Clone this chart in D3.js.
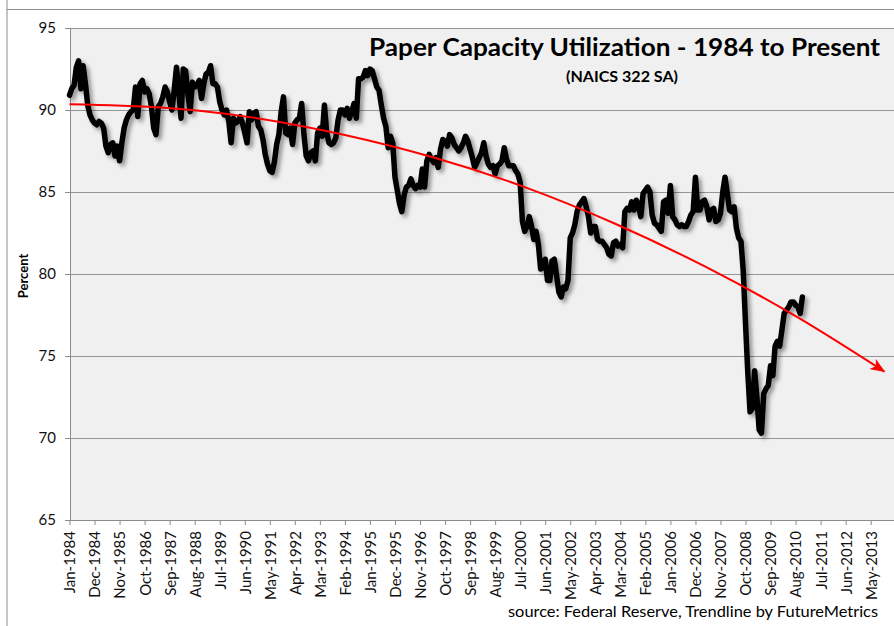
<!DOCTYPE html>
<html>
<head>
<meta charset="utf-8">
<script src="https://cdn.jsdelivr.net/npm/d3@7"></script>
<style>
  html, body { margin: 0; padding: 0; background: #fff; }
  svg { display: block; font-family: Lato, "Open Sans", sans-serif; }
</style>
</head>
<body>
<svg id="chart" width="894" height="626"></svg>
<script>
// ---- DATA ----
const startMonth = "Jan-1984";          // first monthly observation
const tickLabels = ["Jan-1984","Dec-1984","Nov-1985","Oct-1986","Sep-1987","Aug-1988","Jul-1989",
  "Jun-1990","May-1991","Apr-1992","Mar-1993","Feb-1994","Jan-1995","Dec-1995","Nov-1996",
  "Oct-1997","Sep-1998","Aug-1999","Jul-2000","Jun-2001","May-2002","Apr-2003","Mar-2004",
  "Feb-2005","Jan-2006","Dec-2006","Nov-2007","Oct-2008","Sep-2009","Aug-2010","Jul-2011",
  "Jun-2012","May-2013"];
const tickStep = 11; // months between category labels
const yTicks = [65, 70, 75, 80, 85, 90, 95];

// Monthly capacity utilization, Jan-1984 onwards (percent)
const utilization = [
  90.9, 91.3, 91.5, 92.6, 93.0, 91.3, 92.7, 91.6, 90.3, 89.7, 89.4,
  89.2, 89.1, 89.3, 89.2, 88.9, 87.8, 87.4, 87.9, 88.0, 87.2, 87.8,
  86.9, 88.0, 88.9, 89.4, 89.7, 89.9, 90.0, 91.4, 89.6, 91.6, 91.8,
  91.1, 91.3, 91.0, 90.2, 88.9, 88.5, 90.2, 90.4, 90.8, 91.4, 91.1,
  90.5, 90.0, 91.2, 92.6, 91.2, 89.5, 92.5, 92.4, 91.0, 89.9, 91.7,
  91.4, 91.5, 91.8, 90.7, 91.6, 92.2, 92.3, 92.7, 91.6, 91.6, 91.4,
  90.5, 90.0, 89.7, 90.0, 89.3, 88.0, 89.5, 89.2, 89.3, 89.6, 89.2,
  88.6, 88.0, 89.9, 89.4, 89.8, 89.9, 89.0, 88.8, 88.2, 87.3, 86.7,
  86.3, 86.2, 86.8, 87.9, 88.5, 89.9, 90.8, 88.6, 88.5, 88.9, 87.9,
  89.2, 89.4, 89.5, 90.4, 88.5, 87.2, 86.9, 87.4, 87.5, 86.9, 88.6,
  88.9, 88.4, 90.3, 88.6, 88.0, 87.9, 88.0, 88.3, 89.4, 90.0, 90.0,
  89.7, 90.1, 89.5, 89.9, 90.4, 89.5, 91.9, 91.9, 92.0, 92.4, 92.1,
  92.5, 92.4, 91.9, 91.4, 91.2, 90.3, 89.5, 89.0, 87.7, 88.4, 88.0,
  85.9, 85.1, 84.3, 83.8, 84.8, 85.3, 85.4, 85.8, 85.4, 85.2, 85.4,
  85.3, 86.4, 85.3, 86.9, 87.3, 87.0, 86.8, 87.1, 86.5, 87.6, 88.2,
  88.1, 87.8, 88.5, 88.3, 87.9, 87.7, 87.5, 87.7, 88.0, 88.4, 88.1,
  87.6, 87.1, 86.5, 86.8, 87.1, 87.4, 88.0, 87.2, 86.7, 86.5, 86.6,
  86.1, 86.6, 86.7, 86.9, 87.7, 87.0, 86.6, 86.6, 86.6, 86.3, 86.1,
  85.6, 83.2, 82.6, 82.9, 83.5, 82.9, 82.1, 82.6, 81.8, 80.3, 80.4,
  80.9, 79.6, 79.6, 80.8, 80.9, 79.9, 78.9, 78.6, 79.2, 79.1, 79.6,
  82.2, 82.5, 83.0, 83.8, 84.2, 84.4, 84.6, 84.1, 83.5, 82.5, 82.9,
  82.9, 82.1, 82.0, 82.0, 81.8, 81.6, 81.2, 81.1, 81.9, 82.0, 81.7,
  81.8, 81.6, 83.8, 84.0, 83.9, 84.4, 83.9, 84.5, 84.2, 83.5, 84.9,
  85.1, 85.3, 85.0, 83.6, 83.1, 83.0, 82.8, 82.6, 84.4, 84.5, 83.7,
  85.4, 83.5, 83.3, 83.0, 82.9, 83.0, 82.9, 82.9, 83.2, 83.6, 83.8,
  85.9, 83.9, 83.9, 84.4, 84.5, 84.1, 83.3, 83.9, 84.0, 83.2, 83.3,
  83.7, 85.0, 85.9, 84.9, 83.9, 83.8, 84.1, 82.8, 82.2, 82.0, 80.2,
  77.0, 74.0, 71.6, 71.8, 74.1, 72.5, 70.5, 70.3, 72.7, 73.0, 73.2,
  74.4, 73.8, 75.6, 75.9, 75.6, 76.6, 77.6, 77.8, 78.0, 78.3, 78.3,
  78.1, 78.0, 77.6, 78.6
];

// Trendline: month index -> percent
const trendMonths = [0, 40, 80, 120, 160, 200, 240, 280, 320, 358];
const trendValues = [90.35, 90.15, 89.55, 88.5, 87.1, 85.3, 83.05, 80.4, 77.35, 74.05];

const titleText = "Paper Capacity Utilization - 1984 to Present";
const subtitleText = "(NAICS 322 SA)";
const yAxisTitle = "Percent";
const sourceText = "source: Federal Reserve, Trendline by FutureMetrics";

// ---- LAYOUT ----
const svg = d3.select("#chart");
const plot = { left: 70, right: 900, top: 28, bottom: 520 };

const x = d3.scaleLinear().domain([0, (tickLabels.length - 1) * tickStep]).range([69.5, 870.7]);
const y = d3.scaleLinear().domain([65, 95]).range([plot.bottom, plot.top]);

const defs = svg.append("defs");
const f = defs.append("filter").attr("id", "shadow")
  .attr("x", "-5%").attr("y", "-5%").attr("width", "110%").attr("height", "110%");
f.append("feDropShadow").attr("dx", 3).attr("dy", 3).attr("stdDeviation", 2)
  .attr("flood-color", "#000").attr("flood-opacity", 0.4);

defs.append("marker").attr("id", "arrow")
  .attr("viewBox", "0 0 15 12").attr("refX", 14).attr("refY", 6)
  .attr("markerWidth", 15).attr("markerHeight", 12)
  .attr("markerUnits", "userSpaceOnUse").attr("orient", "auto")
  .append("path").attr("d", "M0,0 L15,6 L0,12 L4,6 Z").attr("fill", "#ff0000");

// outer chart border fragments
svg.append("line").attr("x1", 7).attr("x2", 7).attr("y1", 0).attr("y2", 626)
  .attr("stroke", "#8c8c8c").attr("stroke-width", 1);
svg.append("line").attr("x1", 7).attr("x2", 894).attr("y1", 9.5).attr("y2", 9.5)
  .attr("stroke", "#8c8c8c").attr("stroke-width", 1);

// plot background
svg.append("rect").attr("x", plot.left).attr("y", plot.top)
  .attr("width", plot.right - plot.left).attr("height", plot.bottom - plot.top)
  .attr("fill", "#f0f0f0");

// gridlines
svg.append("g").selectAll("line").data(yTicks).join("line")
  .attr("x1", plot.left).attr("x2", plot.right)
  .attr("y1", d => Math.round(y(d)) + 0.5).attr("y2", d => Math.round(y(d)) + 0.5)
  .attr("stroke", "#969696").attr("stroke-width", 1.2);

// y axis
const yAxis = svg.append("g").attr("transform", `translate(${plot.left},0)`)
  .call(d3.axisLeft(y).tickValues(yTicks).tickSize(5).tickPadding(9));
yAxis.select(".domain").attr("stroke", "#8c8c8c");
yAxis.selectAll(".tick line").attr("stroke", "#8c8c8c");
yAxis.selectAll("text").attr("font-size", 15).attr("fill", "#111")
  .attr("font-family", "Lato, sans-serif");

// x axis
const xAxis = svg.append("g").attr("transform", `translate(0,${plot.bottom})`)
  .call(d3.axisBottom(x)
    .tickValues(tickLabels.map((_, i) => i * tickStep))
    .tickFormat((d, i) => tickLabels[i])
    .tickSize(5).tickSizeOuter(0));
xAxis.select(".domain").attr("stroke", "#8c8c8c").attr("d", `M${plot.left},0.5H${plot.right}`);
xAxis.selectAll(".tick line").attr("stroke", "#8c8c8c");
xAxis.selectAll("text")
  .attr("font-size", 15).attr("fill", "#111").attr("font-family", "Lato, sans-serif")
  .attr("text-anchor", "end")
  .attr("transform", "rotate(-90)")
  .attr("x", -11).attr("y", 0).attr("dy", "0.36em");

// data line
const line = d3.line().x((d, i) => x(i)).y(d => y(d)).curve(d3.curveLinear);
svg.append("path").datum(utilization)
  .attr("d", line)
  .attr("fill", "none").attr("stroke", "#000").attr("stroke-width", 5.5)
  .attr("stroke-linejoin", "round").attr("stroke-linecap", "round")
  .attr("filter", "url(#shadow)");

// trendline
const trend = trendMonths.map((m, i) => [m, trendValues[i]]);
svg.append("path").datum(trend)
  .attr("d", d3.line().x(d => x(d[0])).y(d => y(d[1])).curve(d3.curveNatural))
  .attr("fill", "none").attr("stroke", "#ff0000").attr("stroke-width", 2)
  .attr("marker-end", "url(#arrow)");

// titles
svg.append("text").attr("x", 880).attr("y", 56).attr("text-anchor", "end")
  .attr("font-size", 24).attr("font-weight", "bold").attr("fill", "#000")
  .attr("textLength", 511).attr("lengthAdjust", "spacingAndGlyphs")
  .text(titleText);
svg.append("text").attr("x", 622).attr("y", 82).attr("text-anchor", "middle")
  .attr("font-size", 15).attr("font-weight", "bold").attr("fill", "#000")
  .attr("textLength", 112).attr("lengthAdjust", "spacingAndGlyphs")
  .text(subtitleText);

svg.append("text").attr("transform", "translate(28,276) rotate(-90)")
  .attr("text-anchor", "middle").attr("font-size", 13).attr("font-weight", "bold")
  .attr("fill", "#000").text(yAxisTitle);

svg.append("text").attr("x", 878).attr("y", 617).attr("text-anchor", "end")
  .attr("font-size", 15).attr("fill", "#000")
  .attr("textLength", 370).attr("lengthAdjust", "spacingAndGlyphs")
  .text(sourceText);
</script>
</body>
</html>
